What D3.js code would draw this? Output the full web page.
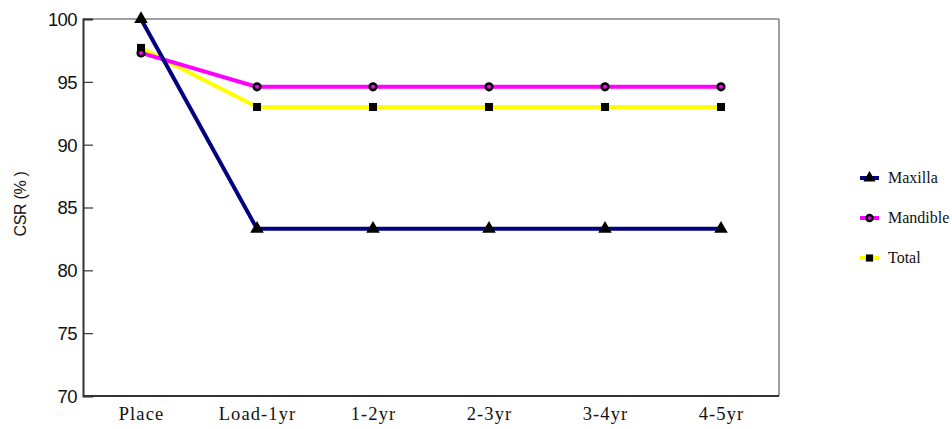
<!DOCTYPE html>
<html><head><meta charset="utf-8">
<script src="https://cdn.jsdelivr.net/npm/d3@7"></script>
<style>body{margin:0;background:#fff}svg{display:block}</style>
</head><body><svg id="c" width="952" height="429"></svg>
<script>
const categories = ["Place","Load-1yr","1-2yr","2-3yr","3-4yr","4-5yr"];
const maxilla = [100, 83.3, 83.3, 83.3, 83.3, 83.3];
const mandible = [97.3, 94.6, 94.6, 94.6, 94.6, 94.6];
const total = [97.7, 93.0, 93.0, 93.0, 93.0, 93.0];
const yTicks = [70,75,80,85,90,95,100];
const seriesNames = ["Maxilla","Mandible","Total"];

const series = [
  {name: seriesNames[0], values: maxilla, color: "#000080", marker: "triangle"},
  {name: seriesNames[1], values: mandible, color: "#ff00ff", marker: "circle"},
  {name: seriesNames[2], values: total, color: "#ffff00", marker: "square"}
];

const svg = d3.select("#c");
const L = 83, R = 779, T = 19, B = 396;
const x = d3.scalePoint().domain(categories).range([L, R]).padding(0.5);
const y = d3.scaleLinear().domain([70,100]).range([B, T]);

svg.append("line").attr("x1",L).attr("x2",R).attr("y1",T).attr("y2",T).attr("stroke","#808080").attr("stroke-width",1.5);
svg.append("line").attr("x1",R).attr("x2",R).attr("y1",T).attr("y2",B).attr("stroke","#808080").attr("stroke-width",1.5);

const ya = svg.append("g").attr("transform",`translate(${L},0)`)
  .call(d3.axisLeft(y).tickValues(yTicks).tickSize(-10).tickPadding(6));
ya.select(".domain").attr("stroke","#333").attr("stroke-width",2);
ya.selectAll(".tick line").attr("stroke","#333").attr("stroke-width",1.2);
ya.selectAll(".tick text").attr("font-family","Liberation Sans, Arial, sans-serif").attr("font-size",18.5).attr("fill","#111").attr("letter-spacing",-0.6).attr("dy","0.35em");

const xa = svg.append("g").attr("transform",`translate(0,${B})`)
  .call(d3.axisBottom(x).tickSize(0).tickPadding(11));
xa.select(".domain").attr("stroke","#333").attr("stroke-width",2).attr("d",`M${L},0H${R}`);
xa.selectAll(".tick text").attr("font-family","Liberation Serif, DejaVu Serif, serif").attr("font-size",18.5).attr("fill","#111").attr("letter-spacing",1.1);

svg.append("text").attr("transform","translate(25.5,204) rotate(-90)").attr("text-anchor","middle")
  .attr("font-family","Liberation Sans, Arial, sans-serif").attr("font-size",16).attr("fill","#111").attr("letter-spacing",-0.3)
  .text("CSR (%\u00a0)");

const line = d3.line().x((d,i)=>x(categories[i])).y(d=>y(d));

function drawMarker(g, type, cx, cy, scale) {
  if (type === "triangle") {
    g.append("path").attr("d", d3.symbol(d3.symbolTriangle, 80*scale)()).attr("transform",`translate(${cx},${cy})`).attr("fill","#000");
  } else if (type === "circle") {
    g.append("circle").attr("cx",cx).attr("cy",cy).attr("r",3.3*Math.sqrt(scale)).attr("fill","#ff00ff").attr("stroke","#000").attr("stroke-width",2.6);
  } else {
    const s = 8*Math.sqrt(scale);
    g.append("rect").attr("x",cx-s/2).attr("y",cy-s/2).attr("width",s).attr("height",s).attr("fill","#000");
  }
}

const drawOrder = [series[2], series[1], series[0]];
drawOrder.forEach(s => {
  const g = svg.append("g");
  g.append("path").attr("d", line(s.values)).attr("fill","none").attr("stroke", s.color).attr("stroke-width",4).attr("stroke-linejoin","round");
  s.values.forEach((v,i)=> drawMarker(g, s.marker, x(categories[i]), y(v), 1));
});

series.forEach((s,i) => {
  const ly = 178 + i*40;
  const g = svg.append("g");
  g.append("line").attr("x1",860).attr("x2",879).attr("y1",ly).attr("y2",ly).attr("stroke",s.color).attr("stroke-width",4);
  drawMarker(g, s.marker, 869.5, ly, 0.8);
  g.append("text").attr("x",888).attr("y",ly+5).attr("font-family","Liberation Serif, DejaVu Serif, serif").attr("font-size",16).attr("fill","#111").text(s.name);
});
</script></body></html>
